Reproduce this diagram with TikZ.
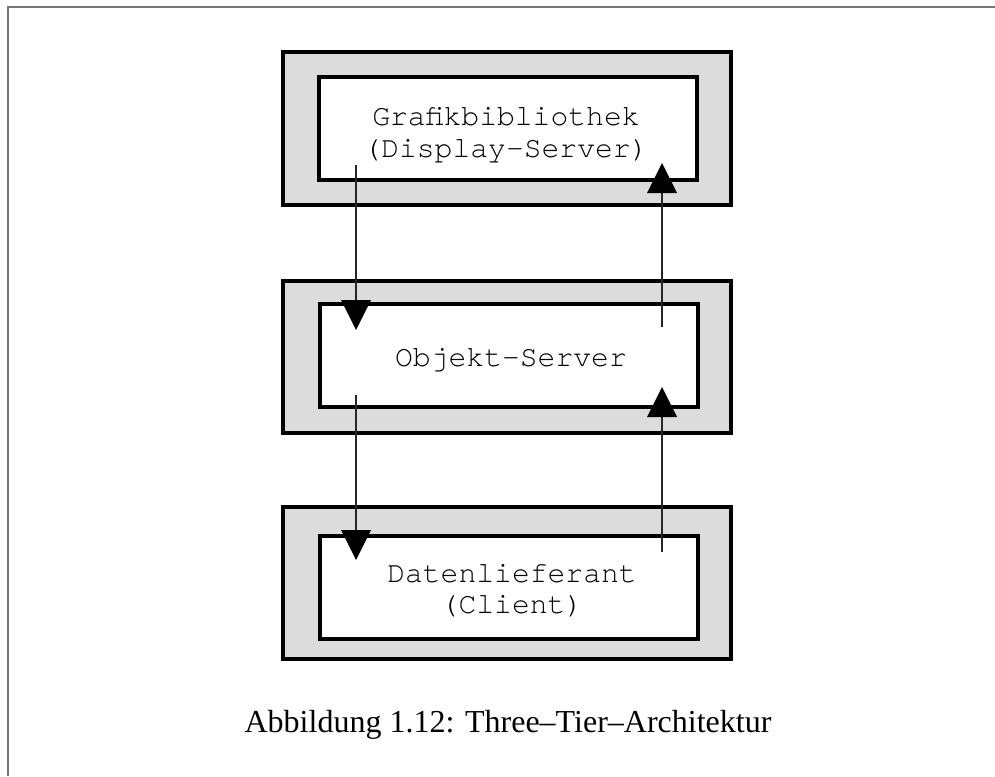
\documentclass[tikz,border=0pt]{standalone}
\usepackage{fontspec}
\setmainfont{Liberation Serif}
\newfontfamily\boxfont{TeX Gyre Cursor}
\usetikzlibrary{arrows.meta}
\definecolor{tiergray}{HTML}{DCDCDC}
\definecolor{framegray}{HTML}{777777}
\begin{document}
\begin{tikzpicture}[x=1pt,y=-1pt,
  tier/.style={draw=black,line width=4pt,fill=tiergray,minimum width=448pt,minimum height=152pt,inner sep=0pt},
  core/.style={draw=black,line width=4pt,fill=white,minimum width=378pt,minimum height=103pt,inner sep=0pt},
  boxtext/.style={font=\boxfont\fontsize{29.7}{32}\selectfont,inner sep=0pt,anchor=base},
  flow/.style={draw=black!85,line width=2pt,-{Triangle[width=30pt,length=30pt,line width=0pt,fill=black,color=black]}}]
\useasboundingbox (0,0) rectangle (995,776);
% page frame (left and top edges only)
\draw[framegray,line width=2pt] (7.5,776) -- (7.5,7.5) -- (995,7.5);

% tier 1: display server
\node[tier] (gfxouter) at (507,128.5) {};
\node[core] (gfxinner) at (508,128.5) {};
\node[boxtext] (gfxname) at (506,125) {Grafikbibliothek};
\node[boxtext] (gfxrole) at (506,157) {(Display-Server)};

% tier 2: object server
\node[tier] (objouter) at (507,356.5) {};
\node[core] (objinner) at (508.5,355.5) {};
\node[boxtext] (objname) at (511,366) {Objekt-Server};

% tier 3: data supplier
\node[tier] (datouter) at (507,583) {};
\node[core] (datinner) at (508.5,587) {};
\node[boxtext] (datname) at (512,582) {Datenlieferant};
\node[boxtext] (datrole) at (512,613) {(Client)};

% message flow between the tiers
\coordinate (downAs) at (356,165);
\coordinate (downAe) at (356,330);
\coordinate (upAs) at (662,327);
\coordinate (upAe) at (662,163);
\coordinate (downBs) at (356,395);
\coordinate (downBe) at (356,560);
\coordinate (upBs) at (662,552);
\coordinate (upBe) at (662,387);
\draw[flow] (downAs) -- (downAe);
\draw[flow] (upAs) -- (upAe);
\draw[flow] (downBs) -- (downBe);
\draw[flow] (upBs) -- (upBe);

% caption
\node[font=\fontsize{32}{38}\selectfont,inner sep=0pt,anchor=base] (caption) at (508,732)
  {Abbildung 1.12: Three--Tier--Architektur};
\end{tikzpicture}
\end{document}
